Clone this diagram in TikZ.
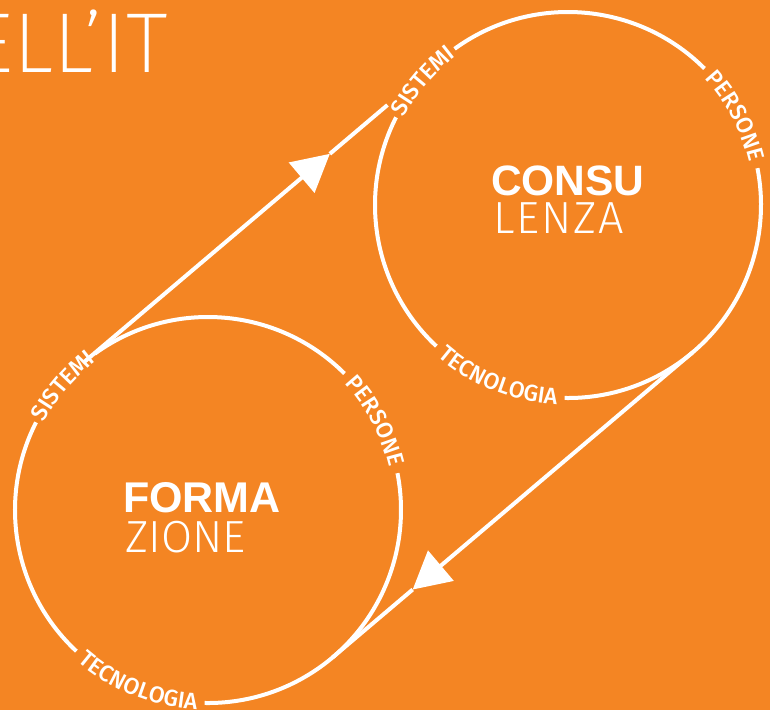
\documentclass[tikz,border=0pt]{standalone}
\usepackage{fontspec}
\usetikzlibrary{decorations.text,arrows.meta,calc}
\newfontfamily\labfont{Fira Sans Medium}
\newfontfamily\helv{Liberation Sans}
\newfontfamily\thinfont{Fira Sans Light}
\newfontfamily\xthinfont{Fira Sans ExtraLight}
\newfontfamily\thinwide{Fira Sans Light}[LetterSpace=4]
\definecolor{bg}{RGB}{244,133,35}
\begin{document}
\begin{tikzpicture}[x=1pt,y=1pt,
  ring/.style={white,line width=4pt},
  conn/.style={white,line width=4pt},
  head/.style={-{Triangle[length=37pt,width=39pt]}},
  lab/.style={decorate,decoration={text along path,text color=white,text align=center,
     text={|\labfont\fontsize{23}{23}\selectfont|#1}}}]
\fill[bg] (0,0) rectangle (770,-710);
\clip (0,0) rectangle (770,-710);
\node[anchor=base east,inner sep=0,white,font=\xthinfont\fontsize{85}{85}\selectfont] (title) at (168,-72) {ELL’IT};
\coordinate (C1) at (568,-205);
\coordinate (C2) at (208,-510);
\foreach \c in {C1,C2}{
  \draw[ring] (\c) ++(-91:193) arc[start angle=-91,end angle=11,radius=193];
  \draw[ring] (\c) ++(45:193) arc[start angle=45,end angle=126,radius=193];
  \draw[ring] (\c) ++(153:193) arc[start angle=153,end angle=227,radius=193];
  \path[lab=SISTEMI] (\c) ++(153.5:186) arc[start angle=153.5,end angle=125.5,radius=186];
  \path[lab=PERSONE] (\c) ++(45:186) arc[start angle=45,end angle=11,radius=186];
  \path[lab=TECNOLOGIA] (\c) ++(227:200) arc[start angle=227,end angle=269,radius=200];
}
\coordinate (L1s) at ($(C2)+(130.27:193)$);
\coordinate (L1e) at ($(C1)+(130.27:193)$);
\coordinate (A1) at ($(L1s)!0.685!(L1e)$);
\coordinate (E1) at ($(L1s)!0.845!(L1e)$);
\coordinate (L2s) at ($(C1)+(-49.73:193)$);
\coordinate (L2e) at ($(C2)+(-49.73:193)$);
\coordinate (A2) at ($(L2s)!0.778!(L2e)$);
\draw[conn,head] (L1s) -- (A1);
\draw[conn] (A1) -- (E1);
\draw[conn,head] (L2s) -- (A2);
\draw[conn] (A2) -- (L2e);
\node[anchor=base west,inner sep=0,white,font=\helv\bfseries\fontsize{42.5}{42.5}\selectfont] (consu) at (491,-195) {CONSU};
\node[anchor=base west,inner sep=0,white,font=\thinwide\fontsize{45}{45}\selectfont] (lenza) at (493,-233) {LENZA};
\node[anchor=base west,inner sep=0,white,font=\helv\bfseries\fontsize{43}{43}\selectfont] (forma) at (123,-512) {FORMA};
\node[anchor=base west,inner sep=0,white,font=\thinfont\fontsize{45}{45}\selectfont] (zione) at (125,-552) {ZIONE};
\end{tikzpicture}
\end{document}
